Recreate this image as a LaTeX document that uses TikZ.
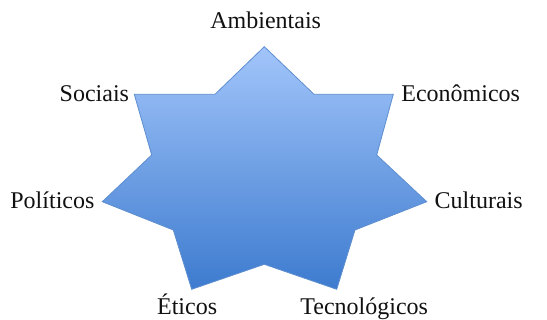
\documentclass[tikz,border=0pt]{standalone}
\usepackage{fontspec}
\setmainfont{Liberation Serif}
\usepackage{xcolor}
\usetikzlibrary{positioning}
\definecolor{starTop}{HTML}{A2C5FA}
\definecolor{starBottom}{HTML}{3D7BCF}
\definecolor{starEdge}{HTML}{5F8FD0}
\definecolor{starInk}{HTML}{111111}
\tikzset{
    x=0.5pt, y=-0.5pt,
    every picture/.style={font=\fontsize{12}{14}\selectfont},
    starbody/.style={draw=starEdge, line width=0.4pt, line join=miter, top color=starTop, bottom color=starBottom},
    starshadow/.style={fill=black, opacity=0.18},
    dimlabel/.style={anchor=base west, inner sep=0pt, text=starInk}
}
\begin{document}
\begin{tikzpicture}
\useasboundingbox (0,0) rectangle (547,320);
% star points (outer) and notches (inner)
\coordinate (top) at (264.3,46.7);
\coordinate (in1) at (314,94.3);
\coordinate (ur) at (393.3,94.3);
\coordinate (in2) at (376.7,155);
\coordinate (rt) at (426.7,201.7);
\coordinate (in3) at (355,230);
\coordinate (br) at (336.7,289.3);
\coordinate (in4) at (264.3,264.3);
\coordinate (bl) at (191.7,289.3);
\coordinate (in5) at (173.3,230);
\coordinate (lf) at (102.3,201.7);
\coordinate (in6) at (151.7,155);
\coordinate (ul) at (134.3,94.3);
\coordinate (in7) at (215,94.3);
\begin{scope}[shift={(1.5,2)}]
\fill[starshadow] (top) -- (in1) -- (ur) -- (in2) -- (rt) -- (in3) -- (br) -- (in4) -- (bl) -- (in5) -- (lf) -- (in6) -- (ul) -- (in7) -- cycle;
\end{scope}
\path[starbody] (top) -- (in1) -- (ur) -- (in2) -- (rt) -- (in3) -- (br) -- (in4) -- (bl) -- (in5) -- (lf) -- (in6) -- (ul) -- (in7) -- cycle;
% labels
\node[dimlabel] (ambientais) at (210,29) {Ambientais};
\node[dimlabel] (economicos) at (401,101.5) {Econômicos};
\node[dimlabel] (culturais) at (434.3,208.3) {Culturais};
\node[dimlabel] (tecnologicos) at (300,315) {Tecnológicos};
\node[dimlabel] (eticos) at (156.7,315) {Éticos};
\node[dimlabel] (politicos) at (10,208.3) {Políticos};
\node[dimlabel] (sociais) at (59.3,101.5) {Sociais};
\end{tikzpicture}
\end{document}
